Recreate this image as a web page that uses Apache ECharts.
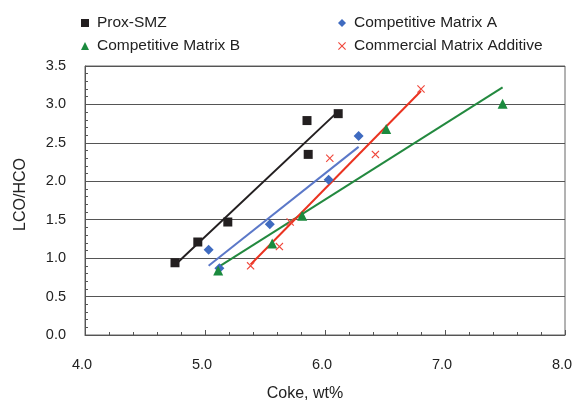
<!DOCTYPE html>
<html>
<head>
<meta charset="utf-8">
<script src="https://cdn.jsdelivr.net/npm/echarts@6/dist/echarts.min.js"></script>
<style>
  html, body { margin: 0; padding: 0; background: #fff; }
  #chart { width: 574px; height: 400px; }
</style>
</head>
<body>
<div id="chart"></div>
<script>
// 数据 (coke wt%, LCO/HCO)
const proxX = [4.75, 4.94, 5.19, 5.85, 5.86, 6.11];
const proxY = [0.94, 1.21, 1.47, 2.79, 2.35, 2.88];
const matAX = [5.03, 5.12, 5.54, 6.03, 6.28];
const matAY = [1.11, 0.87, 1.44, 2.02, 2.59];
const matBX = [5.11, 5.56, 5.81, 6.51, 7.48];
const matBY = [0.84, 1.19, 1.55, 2.68, 3.01];
const addX = [5.38, 5.62, 5.71, 6.04, 6.42, 6.80];
const addY = [0.90, 1.15, 1.47, 2.30, 2.35, 3.20];

const names = ['Prox-SMZ', 'Competitive Matrix A', 'Competitive Matrix B', 'Commercial Matrix Additive'];
const xTicks = ['4.0', '5.0', '6.0', '7.0', '8.0'];

const font = 'Liberation Sans, Arial, sans-serif';
const crossPath = 'path://M0,2L2,0L10,8L18,0L20,2L12,10L20,18L18,20L10,12L2,20L0,18L8,10Z';

// 线性拟合 -> 趋势线两端
function trend(xs, ys) {
    let n = xs.length;
    let mx = xs.reduce((a, b) => a + b, 0) / n;
    let my = ys.reduce((a, b) => a + b, 0) / n;
    let sxy = 0, sxx = 0;
    for (let i = 0; i < n; i++) {
        sxy += (xs[i] - mx) * (ys[i] - my);
        sxx += (xs[i] - mx) * (xs[i] - mx);
    }
    let k = sxy / sxx, b = my - k * mx;
    let x0 = Math.min(...xs), x1 = Math.max(...xs);
    return [[x0, k * x0 + b], [x1, k * x1 + b]];
}

function pts(xs, ys) {
    return xs.map((x, i) => [x, ys[i]]);
}

const groups = [
    { x: proxX, y: proxY, symbol: 'rect', size: 9, mark: '#231f20', line: '#231f20' },
    { x: matAX, y: matAY, symbol: 'diamond', size: 10, mark: '#3f6bc0', line: '#5b78c8' },
    { x: matBX, y: matBY, symbol: 'triangle', size: 10, mark: '#1b8a3e', line: '#23893f' },
    { x: addX, y: addY, symbol: crossPath, size: 8, mark: '#f0483c', line: '#ea3320' }
];

let series = [];
groups.forEach((g, i) => {
    series.push({
        name: names[i] + '-fit',
        type: 'line',
        data: trend(g.x, g.y),
        showSymbol: false,
        silent: true,
        lineStyle: { color: g.line, width: 2 },
        z: 2
    });
});
groups.forEach((g, i) => {
    series.push({
        name: names[i],
        type: 'scatter',
        data: pts(g.x, g.y),
        symbol: g.symbol,
        symbolSize: g.size,
        itemStyle: { color: g.mark, opacity: 1 },
        z: 3
    });
});

let legendBase = {
    orient: 'vertical',
    itemWidth: 8,
    itemHeight: 8,
    itemGap: 5,
    textStyle: { fontFamily: font, fontSize: 15.5, color: '#222', lineHeight: 18, padding: [0, 0, 0, 3] }
};

let myChart = echarts.init(document.getElementById('chart'));
myChart.setOption({
    animation: false,
    legend: [
        Object.assign({}, legendBase, { left: 76, top: 9, data: [names[0], names[2]] }),
        Object.assign({}, legendBase, { left: 333, top: 9, data: [names[1], names[3]] })
    ],
    grid: {
        left: 85, right: 9, top: 66, bottom: 65,
        outerBoundsMode: 'none',
        containLabel: false,
        show: true, borderColor: '#666', borderWidth: 1
    },
    xAxis: {
        type: 'value',
        min: 4, max: 8, interval: 1,
        name: 'Coke, wt%',
        nameLocation: 'middle',
        nameGap: 51,
        nameTextStyle: { fontFamily: font, fontSize: 16, color: '#222', padding: [0, 40, 0, 0] },
        axisLine: { lineStyle: { color: '#555' } },
        axisTick: { inside: true, length: 5, lineStyle: { color: '#555' } },
        minorTick: { show: true, splitNumber: 5, length: 3, lineStyle: { color: '#555' } },
        axisLabel: {
            fontFamily: font, fontSize: 14.5, color: '#222', margin: 22,
            padding: [0, 6, 0, 0],
            formatter: v => xTicks[Math.round(v - 4)]
        },
        splitLine: { show: false }
    },
    yAxis: {
        type: 'value',
        min: 0, max: 3.5, interval: 0.5,
        name: 'LCO/HCO',
        nameLocation: 'middle',
        nameGap: 56,
        nameTextStyle: { fontFamily: font, fontSize: 16, color: '#222', padding: [0, 0, 0, 12] },
        axisLine: { show: true, lineStyle: { color: '#555' } },
        axisTick: { inside: true, length: 5, lineStyle: { color: '#555' } },
        minorTick: { show: true, splitNumber: 5, length: 3, lineStyle: { color: '#555' } },
        axisLabel: {
            fontFamily: font, fontSize: 14.5, color: '#222', margin: 19,
            formatter: v => v.toFixed(1)
        },
        splitLine: { show: true, lineStyle: { color: '#555', width: 1 } }
    },
    series: series
});
</script>
</body>
</html>
